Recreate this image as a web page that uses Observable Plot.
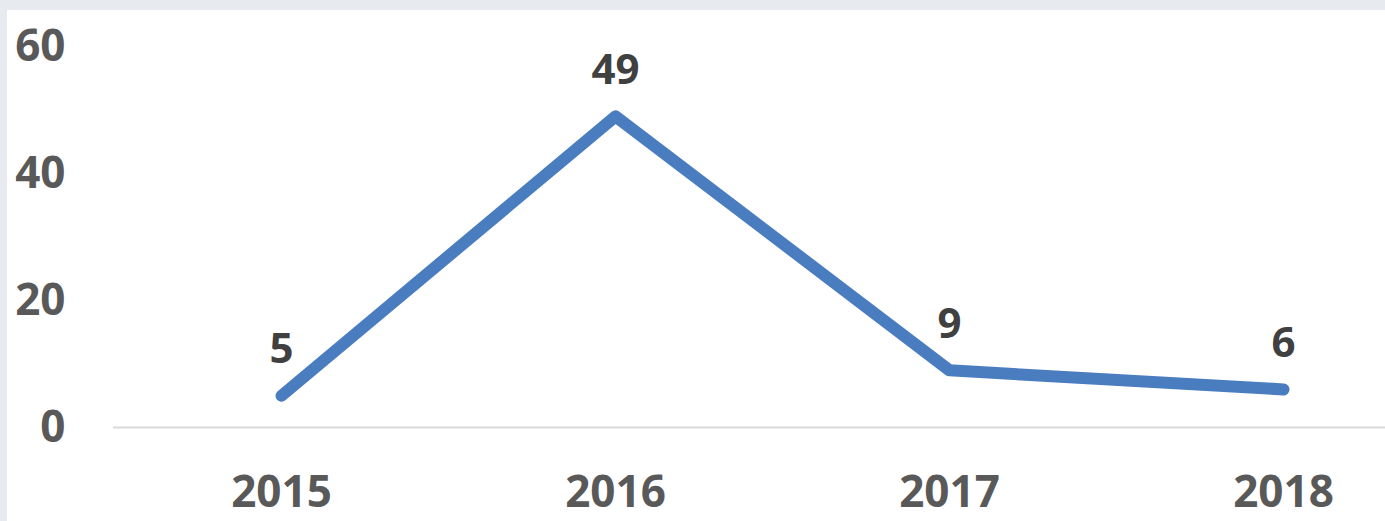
<!DOCTYPE html>
<html>
<head>
<meta charset="utf-8">
<script src="https://cdn.jsdelivr.net/npm/d3@7"></script>
<script src="https://cdn.jsdelivr.net/npm/@observablehq/plot@0.6"></script>
<style>
  html, body { margin: 0; padding: 0; }
  body { width: 1385px; height: 521px; background: #e7eaef; position: relative; overflow: hidden; }
  #panel { position: absolute; left: 7px; top: 10px; right: 0; bottom: 0; background: #ffffff; }
  #chart { position: absolute; left: 0; top: 0; }
  #chart svg { font-family: "Open Sans", sans-serif; }
</style>
</head>
<body>
<div id="panel"></div>
<div id="chart"></div>
<script>
const years = ["2015", "2016", "2017", "2018"];
const values = [5, 49, 9, 6];
const yTicks = [0, 20, 40, 60];

const data = years.map((year, i) => ({year, value: values[i]}));

const chart = Plot.plot({
  width: 1385,
  height: 521,
  marginLeft: 113,
  marginRight: 0,
  marginTop: 0,
  marginBottom: 94,
  style: {background: "transparent", overflow: "visible"},
  x: {type: "point", domain: years, range: [281, 1283], padding: 0},
  y: {domain: [0, 60], range: [427, 46]},
  marks: [
    Plot.ruleY([0], {stroke: "#d9d9d9", strokeWidth: 2}),
    Plot.axisY({
      ticks: yTicks, tickSize: 0, tickPadding: 48, label: null,
      fontSize: 44, fontWeight: "bold", fill: "#595959"
    }),
    Plot.axisX({
      tickSize: 0, tickPadding: 48, label: null,
      fontSize: 44, fontWeight: "bold", fill: "#595959"
    }),
    Plot.line(data, {
      x: "year", y: "value", stroke: "#4a7cc0", strokeWidth: 12,
      strokeLinecap: "round", strokeLinejoin: "round"
    }),
    Plot.text(data, {
      x: "year", y: "value", text: d => String(d.value), dy: -46,
      fontSize: 42, fontWeight: "bold", fill: "#404040"
    })
  ]
});
document.getElementById("chart").appendChild(chart);
</script>
</body>
</html>
